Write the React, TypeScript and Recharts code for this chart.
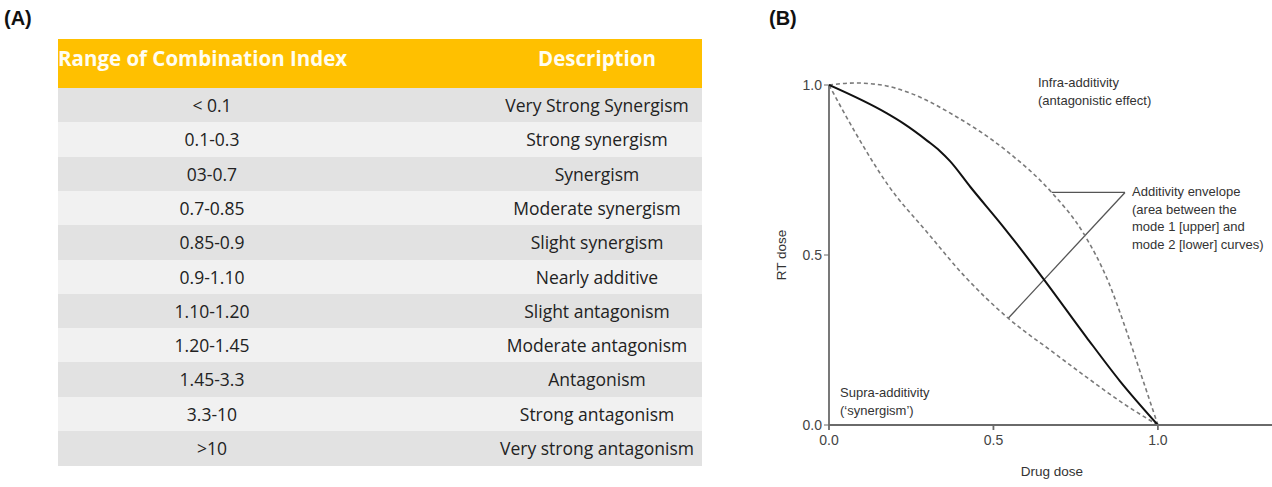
import React from 'react';
import { LineChart, Line, XAxis, YAxis, ReferenceLine } from 'recharts';

// ---- Panel A: table ----
const tableHeaders = ['Range of Combination Index', 'Description'];
const ciRanges = ['< 0.1', '0.1-0.3', '03-0.7', '0.7-0.85', '0.85-0.9', '0.9-1.10', '1.10-1.20', '1.20-1.45', '1.45-3.3', '3.3-10', '>10'];
const descriptions = [
  'Very Strong Synergism', 'Strong synergism', 'Synergism', 'Moderate synergism', 'Slight synergism',
  'Nearly additive', 'Slight antagonism', 'Moderate antagonism', 'Antagonism', 'Strong antagonism', 'Very strong antagonism',
];

// ---- Panel B: isobologram ----
const axisTicks = [0, 0.5, 1.0];
const additiveDrug = [0, 0.175, 0.226, 0.3, 0.337, 0.368, 0.43, 0.53, 0.652, 0.783, 0.884, 1.0];
const additiveRT = [1.0, 0.917, 0.887, 0.835, 0.806, 0.776, 0.70, 0.583, 0.43, 0.258, 0.13, 0.0];
const upperDrug = [0, 0.08, 0.16, 0.25, 0.378, 0.54, 0.677, 0.775, 0.85, 0.905, 0.95, 1.0];
const upperRT = [1.0, 1.006, 1.0, 0.975, 0.912, 0.806, 0.684, 0.562, 0.42, 0.275, 0.145, 0.0];
const lowerDrug = [0, 0.08, 0.18, 0.3, 0.41, 0.545, 0.68, 0.784, 0.9, 1.0];
const lowerRT = [1.0, 0.86, 0.705, 0.565, 0.44, 0.314, 0.215, 0.14, 0.06, 0.0];
const envelopeCallout = [
  { x: 0.677, y: 0.684 },
  { x: 0.9, y: 0.684 },
  { x: 0.545, y: 0.314 },
];

const toPoints = (xs: number[], ys: number[]) => xs.map((x, i) => ({ x, y: ys[i] }));
const additiveData = toPoints(additiveDrug, additiveRT);
const upperData = toPoints(upperDrug, upperRT);
const lowerData = toPoints(lowerDrug, lowerRT);

const chartFont = '"Liberation Sans", Arial, Helvetica, sans-serif';
const tableFont = '"Open Sans", "Noto Sans", sans-serif';

const Txt = ({ left, top, children, style }: any) => (
  <div style={{ position: 'absolute', left, top, whiteSpace: 'nowrap', ...style }}>{children}</div>
);

export default function App() {
  const rowH = 34.3;
  return (
    <div style={{ position: 'absolute', left: 0, top: 0, width: 1272, height: 487, background: '#fff', overflow: 'hidden' }}>
      {/* Panel labels */}
      <Txt left={4} top={5} style={{ fontFamily: chartFont, fontWeight: 700, fontSize: 20, lineHeight: '26px', color: '#111' }}>(A)</Txt>
      <Txt left={769} top={5} style={{ fontFamily: chartFont, fontWeight: 700, fontSize: 20, lineHeight: '26px', color: '#111' }}>(B)</Txt>

      {/* Table */}
      <div style={{ position: 'absolute', left: 58, top: 39, width: 644, height: 49, background: '#FFC000' }} />
      <Txt left={58} top={38} style={{ fontFamily: tableFont, fontWeight: 700, fontSize: 20.5, lineHeight: '40px', color: '#FFFDF0' }}>{tableHeaders[0]}</Txt>
      <Txt left={497} top={38} style={{ width: 200, textAlign: 'center', fontFamily: tableFont, fontWeight: 700, fontSize: 20.5, lineHeight: '40px', color: '#FFFDF0' }}>{tableHeaders[1]}</Txt>
      {ciRanges.map((r, i) => (
        <div key={i} style={{ position: 'absolute', left: 58, top: 88 + i * rowH, width: 644, height: rowH + 0.5, background: i % 2 === 0 ? '#E2E2E2' : '#F1F1F1' }}>
          <div style={{ position: 'absolute', left: 54, width: 200, textAlign: 'center', top: 0, lineHeight: `${rowH}px`, fontFamily: tableFont, fontSize: 17.5, color: '#222' }}>{r}</div>
          <div style={{ position: 'absolute', left: 419, width: 240, textAlign: 'center', top: 0, lineHeight: `${rowH}px`, fontFamily: tableFont, fontSize: 17.5, color: '#222', whiteSpace: 'nowrap' }}>{descriptions[i]}</div>
        </div>
      ))}

      {/* Chart */}
      <div style={{ position: 'absolute', left: 760, top: 0 }}>
        <LineChart width={512} height={487} margin={{ top: 81.6, right: 0, bottom: 0, left: 0 }}>
          <XAxis
            type="number"
            dataKey="x"
            domain={[0, 1.347]}
            ticks={axisTicks}
            tickFormatter={(v: number) => v.toFixed(1)}
            height={62}
            tickSize={5}
            tickMargin={5}
            stroke="#6a6a6a"
            strokeWidth={1.8}
            tick={{ fontSize: 14, fill: '#444', fontFamily: chartFont }}
            allowDataOverflow
          />
          <YAxis
            type="number"
            dataKey="y"
            domain={[0, 1.01]}
            ticks={axisTicks}
            tickFormatter={(v: number) => v.toFixed(1)}
            width={69}
            tickSize={5}
            tickMargin={2}
            axisLine={false}
            stroke="#6a6a6a"
            tick={{ fontSize: 14, fill: '#444', fontFamily: chartFont }}
          />
          <ReferenceLine segment={[{ x: 0, y: 0 }, { x: 0, y: 1 }]} stroke="#6a6a6a" strokeWidth={1.8} />
          <ReferenceLine segment={[envelopeCallout[0], envelopeCallout[1]]} stroke="#555" strokeWidth={1.3} />
          <ReferenceLine segment={[envelopeCallout[1], envelopeCallout[2]]} stroke="#555" strokeWidth={1.3} />
          <Line data={upperData} dataKey="y" type="monotone" stroke="#7a7a7a" strokeWidth={1.6} strokeDasharray="4 3" dot={false} isAnimationActive={false} />
          <Line data={lowerData} dataKey="y" type="monotone" stroke="#7a7a7a" strokeWidth={1.6} strokeDasharray="4 3" dot={false} isAnimationActive={false} />
          <Line data={additiveData} dataKey="y" type="monotone" stroke="#111" strokeWidth={2} dot={false} isAnimationActive={false} />
        </LineChart>
      </div>

      {/* Chart annotations */}
      <Txt left={998} top={463} style={{ width: 108, textAlign: 'center', fontFamily: chartFont, fontSize: 13.5, lineHeight: '18px', color: '#333' }}>Drug dose</Txt>
      <div style={{ position: 'absolute', left: 782 - 40, top: 255 - 9, width: 80, height: 18, textAlign: 'center', transform: 'rotate(-90deg)', fontFamily: chartFont, fontSize: 13.5, lineHeight: '18px', color: '#333' }}>RT dose</div>
      <Txt left={1038} top={74} style={{ fontFamily: chartFont, fontSize: 13, lineHeight: '18px', color: '#333' }}>
        Infra-additivity<br />(antagonistic effect)
      </Txt>
      <Txt left={1132} top={183} style={{ fontFamily: chartFont, fontSize: 13, lineHeight: '17.5px', color: '#333' }}>
        Additivity envelope<br />(area between the<br />mode 1 [upper] and<br />mode 2 [lower] curves)
      </Txt>
      <Txt left={840} top={384} style={{ fontFamily: chartFont, fontSize: 13, lineHeight: '18px', color: '#333' }}>
        Supra-additivity<br />(‘synergism’)
      </Txt>
    </div>
  );
}
